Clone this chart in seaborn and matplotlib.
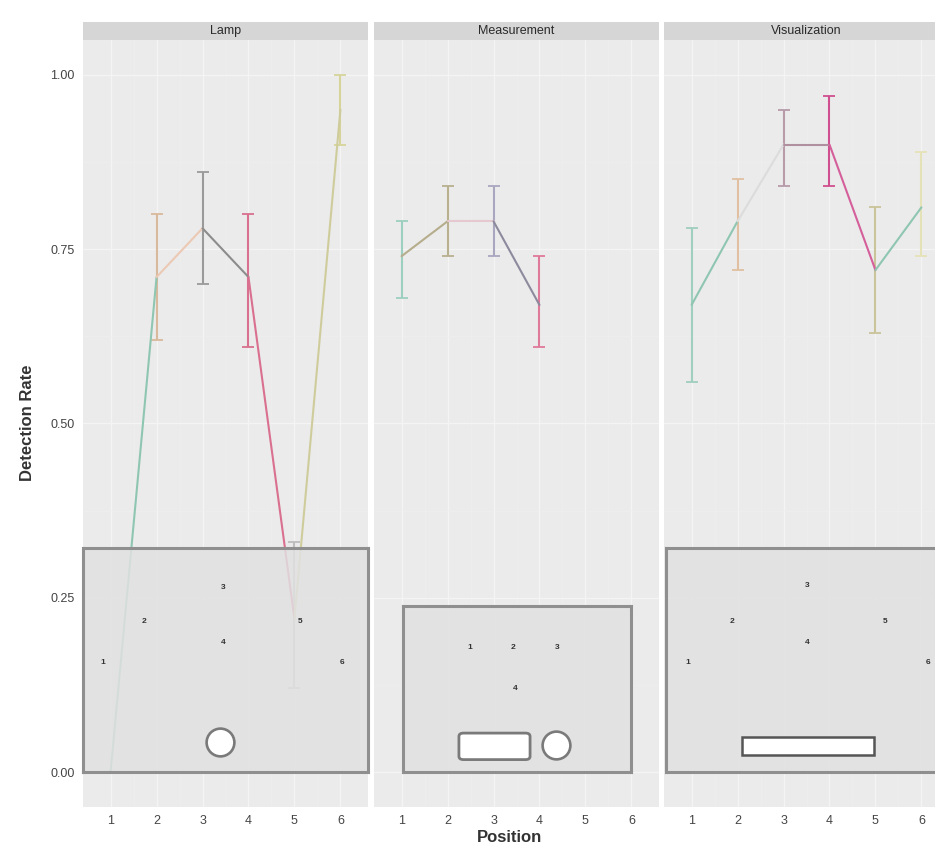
import numpy as np
import pandas as pd
import matplotlib
matplotlib.use("Agg")
import matplotlib.pyplot as plt
import seaborn as sns
from matplotlib.patches import FancyBboxPatch

# ---------------------- data ----------------------
panels = ["Lamp", "Measurement", "Visualization"]

lamp_pos = [1, 2, 3, 4, 5, 6]
lamp_mean = [0.00, 0.71, 0.78, 0.71, 0.22, 0.95]
lamp_lo = [0.00, 0.62, 0.70, 0.61, 0.12, 0.90]
lamp_hi = [0.00, 0.80, 0.86, 0.80, 0.33, 1.00]

meas_pos = [1, 2, 3, 4]
meas_mean = [0.74, 0.79, 0.79, 0.67]
meas_lo = [0.68, 0.74, 0.74, 0.61]
meas_hi = [0.79, 0.84, 0.84, 0.74]

vis_pos = [1, 2, 3, 4, 5, 6]
vis_mean = [0.67, 0.79, 0.90, 0.90, 0.72, 0.81]
vis_lo = [0.56, 0.72, 0.84, 0.84, 0.63, 0.74]
vis_hi = [0.78, 0.85, 0.95, 0.97, 0.81, 0.89]

x_ticks = [1, 2, 3, 4, 5, 6]
y_ticks = [0.00, 0.25, 0.50, 0.75, 1.00]
y_ticklabels = ["0.00", "0.25", "0.50", "0.75", "1.00"]

# labels of the positions drawn in the little diagrams
lamp_labels = ["1", "2", "3", "4", "5", "6"]
meas_labels = ["1", "2", "3", "4"]
vis_labels = ["1", "2", "3", "4", "5", "6"]

# ---------------------- colours ----------------------
seg_colors = {
    "Lamp": ["#8fc6b2", "#ecc9b4", "#8c8c8c", "#d9708f", "#cfcc9c"],
    "Measurement": ["#b5ad8c", "#e6c8d0", "#8e8a9e"],
    "Visualization": ["#8fc6b2", "#dcdcdc", "#b08f9e", "#d45f9a", "#8fc6b2"],
}
err_colors = {
    "Lamp": ["#9ccfbf", "#d9b99b", "#9a9a9a", "#d9708f", "#bdbdbd", "#d6d49a"],
    "Measurement": ["#9ccfbf", "#b8b08e", "#a9a6bf", "#e07a9a"],
    "Visualization": ["#9fcfbe", "#e0c0a0", "#b89aa8", "#d04f8f", "#c9c49a", "#e6e2b8"],
}

rows = []
for name, pos, m, lo, hi in [("Lamp", lamp_pos, lamp_mean, lamp_lo, lamp_hi),
                             ("Measurement", meas_pos, meas_mean, meas_lo, meas_hi),
                             ("Visualization", vis_pos, vis_mean, vis_lo, vis_hi)]:
    for p, a, b, c in zip(pos, m, lo, hi):
        rows.append({"panel": name, "position": p, "rate": a, "lo": b, "hi": c})
df = pd.DataFrame(rows)

# each line segment between neighbouring positions gets its own colour
seg_rows = []
for name in panels:
    sub = df[df.panel == name].reset_index(drop=True)
    for i in range(len(sub) - 1):
        for j in (i, i + 1):
            seg_rows.append({"panel": name, "seg": f"s{i}",
                             "position": sub.position[j], "rate": sub.rate[j]})
seg_df = pd.DataFrame(seg_rows)

# ---------------------- style ----------------------
sns.set_theme(style="darkgrid", rc={
    "axes.facecolor": "#ebebeb",
    "grid.color": "white",
    "axes.edgecolor": "none",
})
plt.rcParams["font.family"] = ["Liberation Sans", "DejaVu Sans"]

W, H = 935, 846
fig = plt.figure(figsize=(W / 100, H / 100), dpi=100)

panel_left = [83, 374, 664]
panel_w = 285
panel_top, panel_bot = 40, 807

inset_boxes = {
    "Lamp": [0.0, 0.0456, 1.0, 0.292],
    "Measurement": [0.102, 0.0456, 0.80, 0.216],
    "Visualization": [0.007, 0.0456, 1.0, 0.292],
}

for k, name in enumerate(panels):
    ax = fig.add_axes([panel_left[k] / W, 1 - panel_bot / H,
                       panel_w / W, (panel_bot - panel_top) / H])
    ax.set_xlim(0.4, 6.6)
    ax.set_ylim(-0.05, 1.05)
    ax.set_xticks(x_ticks)
    ax.set_xticks([1.5, 2.5, 3.5, 4.5, 5.5], minor=True)
    ax.set_yticks(y_ticks)
    ax.set_yticks([0.125, 0.375, 0.625, 0.875], minor=True)
    ax.grid(which="major", color="#f4f4f4", linewidth=0.9)
    ax.grid(which="minor", color="#efefef", linewidth=0.5)
    ax.tick_params(axis="both", which="major", length=3, color="#555555",
                   labelsize=9, labelcolor="#444444", pad=3)
    ax.tick_params(which="minor", length=0)
    if k == 0:
        ax.set_yticklabels(y_ticklabels)
    else:
        ax.set_yticklabels([])
        ax.tick_params(axis="y", length=0)

    seg = seg_df[seg_df.panel == name]
    pal = {f"s{i}": c for i, c in enumerate(seg_colors[name])}
    sns.lineplot(data=seg, x="position", y="rate", hue="seg", palette=pal,
                 estimator=None, units="seg", legend=False, linewidth=1.5,
                 ax=ax, zorder=3)
    ax.set_xlabel("")
    ax.set_ylabel("")

    sub = df[df.panel == name].reset_index(drop=True)
    for i in range(len(sub)):
        r = sub.iloc[i]
        if r.hi - r.lo <= 0:
            continue
        ax.errorbar(r.position, r.rate, yerr=[[r.rate - r.lo], [r.hi - r.rate]],
                    fmt="none", ecolor=err_colors[name][i], elinewidth=1.5,
                    capsize=4, capthick=1.3, zorder=2)

    # little diagram of the set-up
    ins = ax.inset_axes(inset_boxes[name])
    ins.set_xlim(0, 1)
    ins.set_ylim(0, 1)
    ins.set_xticks([])
    ins.set_yticks([])
    ins.grid(False)
    ins.patch.set_facecolor("#e1e1e1")
    ins.patch.set_alpha(0.85)
    for sp in ins.spines.values():
        sp.set_visible(True)
        sp.set_edgecolor("#8f8f8f")
        sp.set_linewidth(2.2)

    if name == "Lamp":
        lx = [0.070, 0.214, 0.491, 0.491, 0.761, 0.909]
        ly = [0.491, 0.670, 0.826, 0.580, 0.674, 0.491]
        for t, a, b in zip(lamp_labels, lx, ly):
            ins.text(a, b, t, fontsize=6, color="#333333", ha="center", va="center",
                     fontweight="bold")
        ins.scatter([0.481], [0.134], s=400, facecolor="white",
                    edgecolor="#7a7a7a", linewidth=1.9, zorder=3)
    elif name == "Measurement":
        lx = [0.294, 0.482, 0.675, 0.491]
        ly = [0.753, 0.753, 0.753, 0.506]
        for t, a, b in zip(meas_labels, lx, ly):
            ins.text(a, b, t, fontsize=6, color="#333333", ha="center", va="center",
                     fontweight="bold")
        ins.add_patch(FancyBboxPatch((0.245, 0.075), 0.312, 0.16,
                                     boxstyle="round,pad=0.0,rounding_size=0.02",
                                     facecolor="white", edgecolor="#7a7a7a",
                                     linewidth=2.0))
        ins.scatter([0.671], [0.163], s=400, facecolor="white",
                    edgecolor="#7a7a7a", linewidth=1.9, zorder=3)
    else:
        lx = [0.078, 0.233, 0.495, 0.495, 0.770, 0.919]
        ly = [0.491, 0.670, 0.835, 0.580, 0.674, 0.491]
        for t, a, b in zip(vis_labels, lx, ly):
            ins.text(a, b, t, fontsize=6, color="#333333", ha="center", va="center",
                     fontweight="bold")
        ins.add_patch(FancyBboxPatch((0.265, 0.076), 0.466, 0.08,
                                     boxstyle="square,pad=0.0",
                                     facecolor="white", edgecolor="#555555",
                                     linewidth=1.8))

    # facet strip
    sax = fig.add_axes([panel_left[k] / W, 1 - panel_top / H,
                        panel_w / W, 18 / H])
    sax.set_facecolor("#d6d6d6")
    sax.set_xticks([])
    sax.set_yticks([])
    sax.grid(False)
    sax.text(0.5, 0.5, name, ha="center", va="center", fontsize=9,
             color="#2a2a2a", transform=sax.transAxes)

fig.text(510 / W, 1 - 837 / H, "Position", ha="center", va="center",
         fontsize=12, color="#333333", fontweight="bold")
fig.text(28 / W, 1 - 423 / H, "Detection Rate", ha="center", va="center",
         rotation=90, fontsize=12, color="#333333", fontweight="bold")

fig.savefig("out.png", dpi=100, facecolor="white")
